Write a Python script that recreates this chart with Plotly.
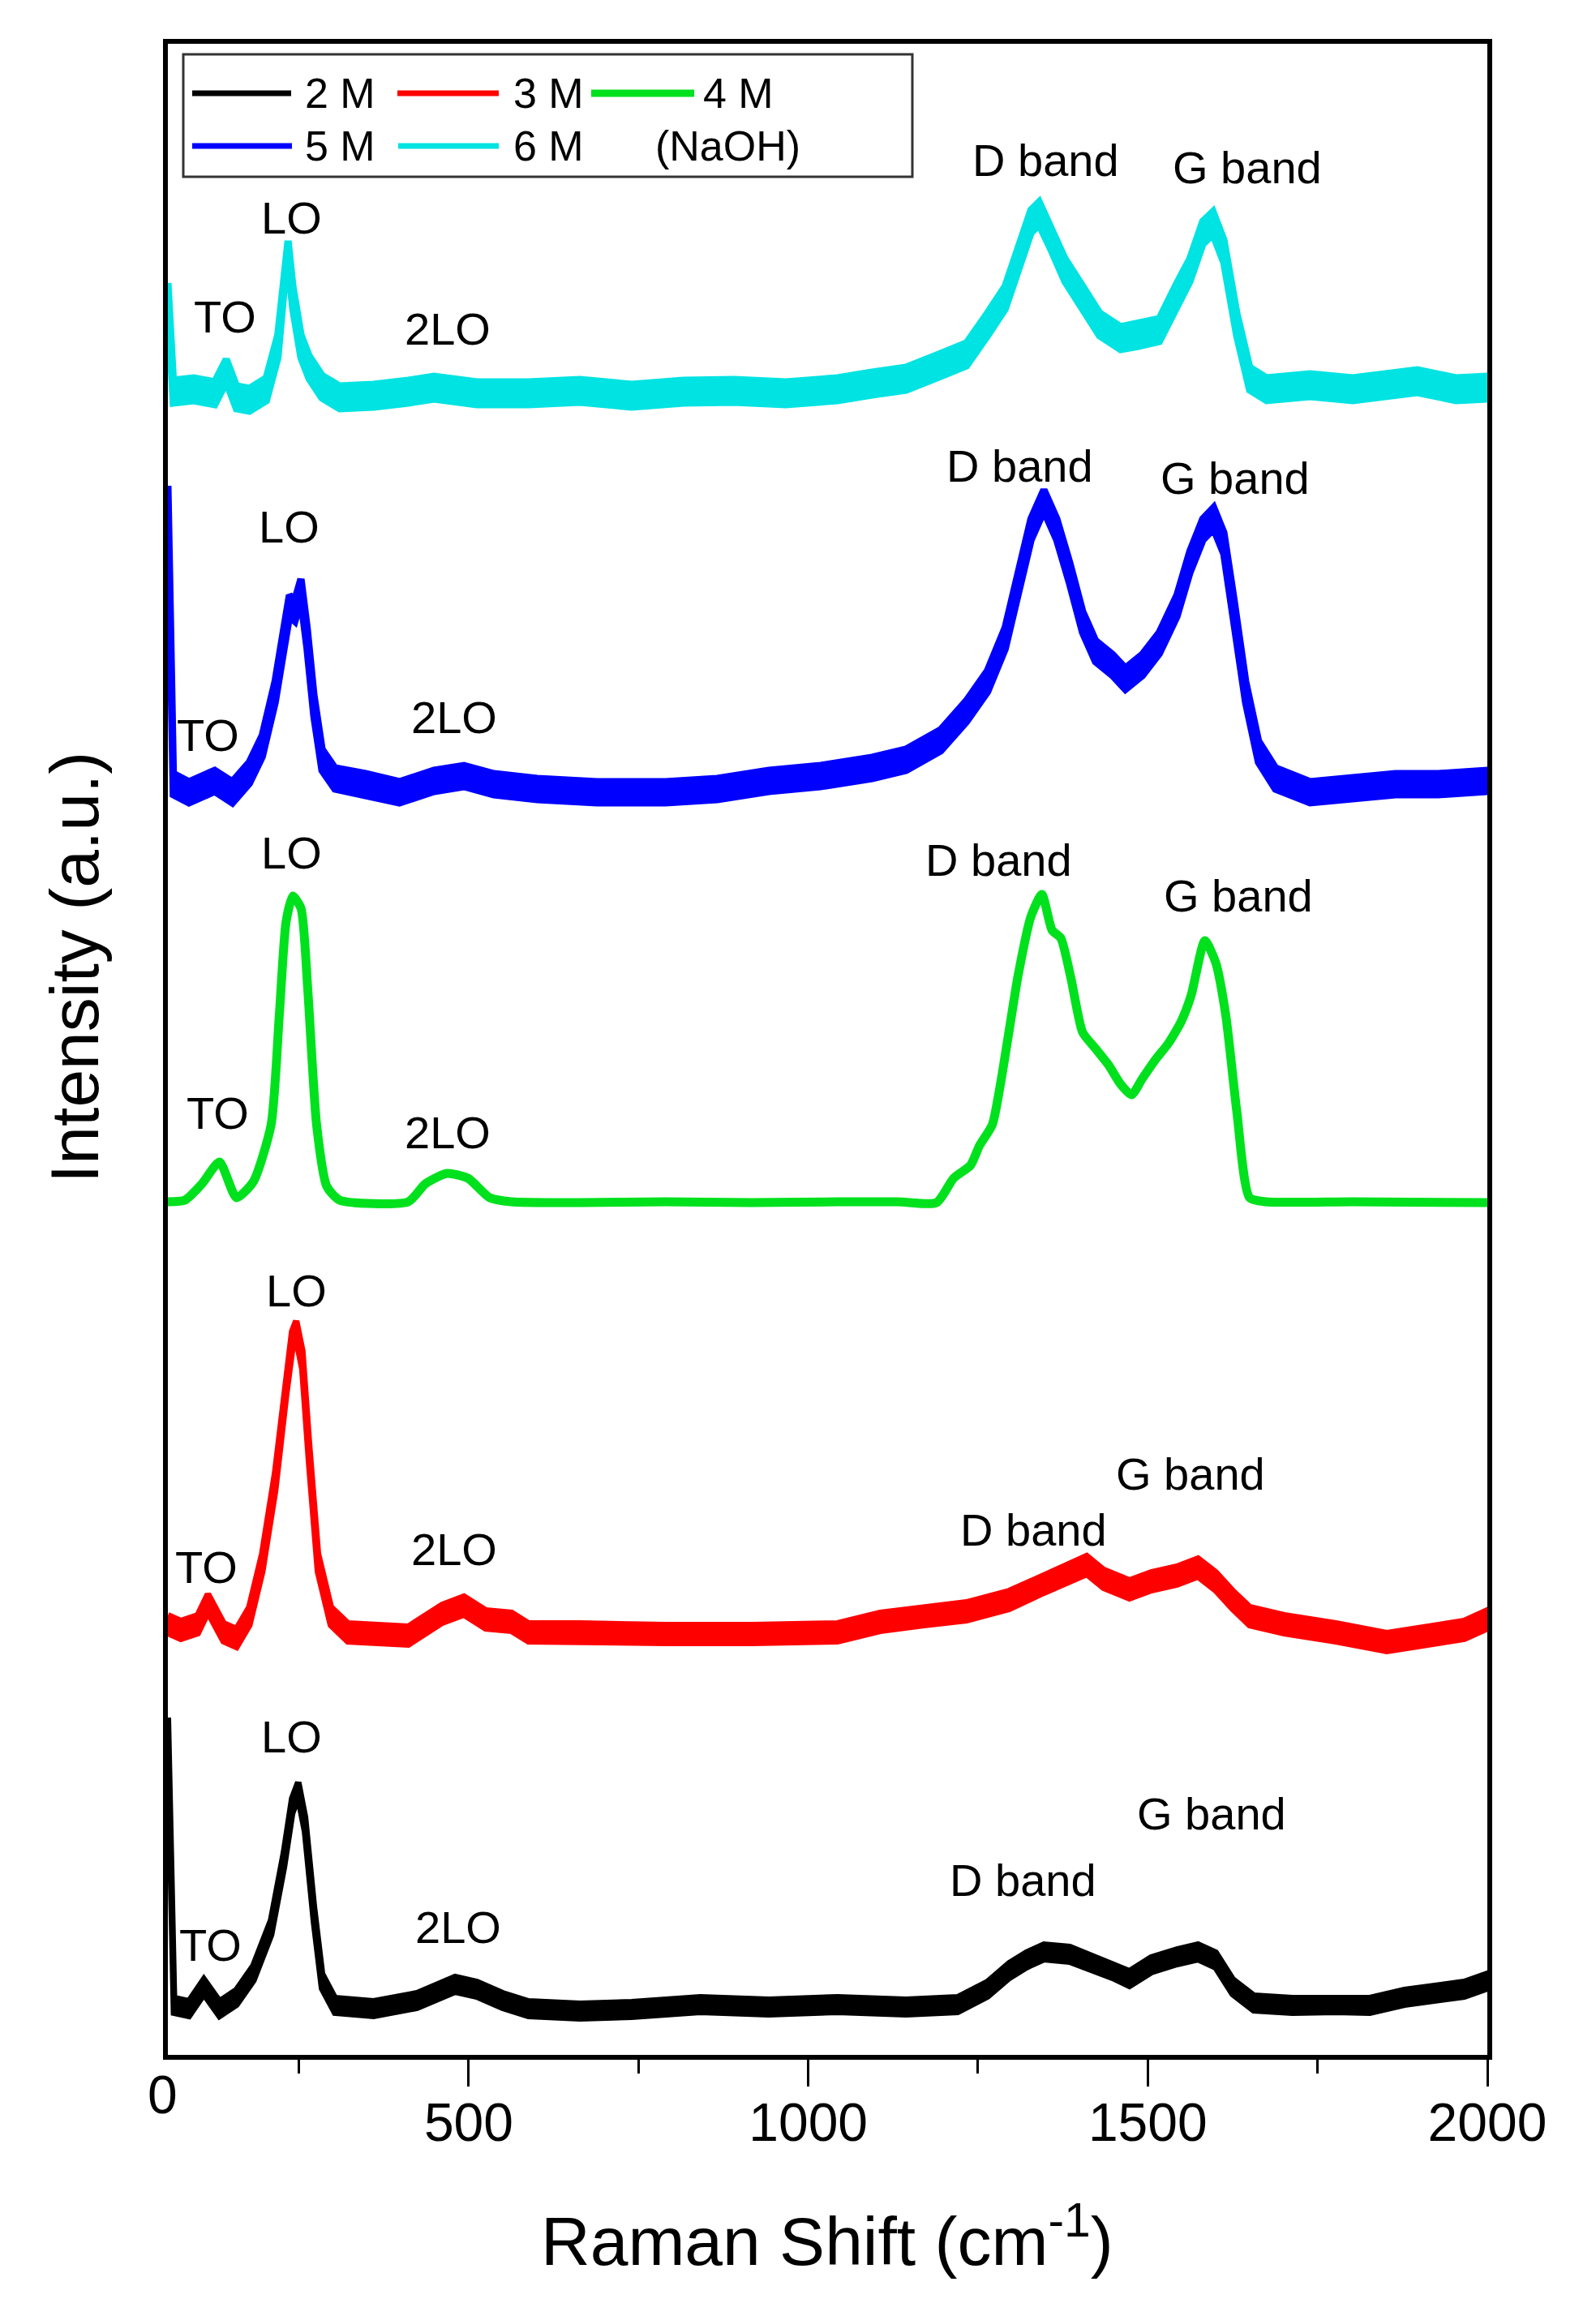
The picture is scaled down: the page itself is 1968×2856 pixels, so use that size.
import plotly.graph_objects as go

# ---------------- data ----------------
# x: Raman shift (cm-1); y: intensity (a.u., stacked offsets as plotted)
x_2M = [57, 66, 88, 110, 133, 158, 183, 209, 228, 240, 249, 259, 272, 284, 303, 360, 424, 480, 512, 550,
        588, 664, 740, 841, 942, 1043, 1144, 1220, 1264, 1296, 1321, 1347, 1385, 1416, 1448, 1473, 1505, 1543,
        1574, 1600, 1625, 1656, 1713, 1777, 1827, 1878, 1928, 1966, 2000]
y_2M = [410, 64, 60, 87, 60, 74, 104, 160, 244, 310, 330, 287, 177, 94, 64, 60, 70, 90, 84, 70,
        60, 57, 59, 65, 62, 65, 62, 65, 84, 107, 120, 130, 127, 117, 107, 97, 114, 124,
        130, 120, 87, 67, 64, 65, 64, 74, 80, 84, 94]

x_3M = [57, 76, 101, 116, 139, 158, 177, 196, 215, 231, 240, 246, 255, 265, 278, 297, 322, 411, 461, 493,
        525, 563, 588, 664, 790, 917, 1043, 1106, 1170, 1233, 1296, 1347, 1385, 1410, 1435, 1473, 1505, 1543,
        1574, 1600, 1625, 1650, 1701, 1777, 1852, 1916, 1966, 2000]
y_3M = [534, 527, 534, 560, 524, 517, 544, 610, 710, 827, 884, 897, 860, 744, 610, 544, 524, 520, 547, 557,
        540, 537, 524, 524, 522, 522, 524, 537, 544, 550, 564, 584, 597, 607, 590, 577, 587, 594,
        604, 587, 564, 544, 534, 524, 512, 520, 527, 540]

x_4M = [57, 82, 107, 133, 158, 183, 209, 221, 231, 241, 253, 263, 276, 291, 310, 411, 436, 468, 499, 531,
        563, 664, 790, 917, 1043, 1132, 1189, 1214, 1239, 1252, 1271, 1283, 1296, 1309, 1328, 1344, 1359, 1372,
        1387, 1404, 1423, 1442, 1460, 1476, 1492, 1511, 1530, 1549, 1564, 1584, 1600, 1615, 1631, 1650, 1675,
        1802, 2000]
y_4M = [1055, 1057, 1077, 1104, 1060, 1080, 1150, 1284, 1400, 1432, 1417, 1317, 1150, 1074, 1057, 1055, 1077, 1090, 1084, 1060,
        1055, 1054, 1055, 1054, 1055, 1055, 1054, 1084, 1100, 1124, 1150, 1200, 1267, 1334, 1407, 1434, 1390, 1380,
        1330, 1264, 1244, 1224, 1200, 1187, 1207, 1230, 1250, 1277, 1310, 1377, 1350, 1284, 1167, 1060, 1055,
        1055, 1054]

x_5M = [57, 65, 88, 126, 152, 177, 196, 215, 228, 236, 244, 253, 262, 272, 284, 303, 348, 398, 449, 493,
        537, 601, 689, 790, 866, 942, 1018, 1094, 1144, 1195, 1233, 1264, 1290, 1309, 1328, 1347, 1366, 1385,
        1404, 1423, 1448, 1467, 1492, 1517, 1543, 1562, 1581, 1597, 1612, 1627, 1644, 1663, 1688, 1739, 1802,
        1865, 1928, 2000]
y_5M = [1925, 1570, 1560, 1574, 1560, 1584, 1617, 1684, 1750, 1790, 1784, 1810, 1750, 1667, 1600, 1577, 1570, 1560, 1574, 1580,
        1570, 1564, 1560, 1560, 1564, 1574, 1580, 1590, 1600, 1624, 1660, 1697, 1750, 1817, 1884, 1920, 1884, 1830,
        1770, 1734, 1717, 1700, 1717, 1744, 1790, 1844, 1884, 1898, 1867, 1784, 1684, 1610, 1577, 1560, 1564,
        1570, 1570, 1574]

x_6M = [57, 65, 95, 126, 143, 158, 177, 202, 219, 228, 234, 241, 253, 265, 284, 310, 360, 411, 449, 512,
        588, 664, 740, 816, 891, 967, 1043, 1094, 1144, 1195, 1233, 1264, 1290, 1309, 1328, 1340, 1357, 1378,
        1404, 1429, 1460, 1486, 1517, 1543, 1562, 1581, 1596, 1612, 1631, 1650, 1675, 1739, 1802, 1897, 1954,
        2000]
y_6M = [2174, 2054, 2057, 2052, 2080, 2047, 2044, 2057, 2110, 2194, 2226, 2170, 2110, 2084, 2060, 2047, 2049, 2054, 2059, 2052,
        2052, 2055, 2049, 2054, 2055, 2052, 2057, 2064, 2070, 2087, 2100, 2137, 2170, 2217, 2264, 2274, 2244, 2204,
        2170, 2137, 2120, 2124, 2130, 2174, 2204, 2250, 2262, 2227, 2137, 2070, 2057, 2062, 2057, 2067, 2057,
        2059]

series_names = ["2 M", "3 M", "4 M", "5 M", "6 M"]
series_x = [x_2M, x_3M, x_4M, x_5M, x_6M]
series_y = [y_2M, y_3M, y_4M, y_5M, y_6M]

x_tick_vals = [500, 1000, 1500, 2000]
x_tick_text = ["500", "1000", "1500", "2000"]
x_minor_vals = [250, 750, 1250, 1750]

# peak labels (x in cm-1, y in plotted a.u.)
label_text = ["TO", "LO", "2LO", "D band", "G band"] * 5
label_x = [120, 239, 485, 1316, 1594,
           114, 246, 479, 1332, 1563,
           131, 239, 469, 1280, 1633,
           116, 236, 479, 1311, 1628,
           141, 239, 469, 1350, 1646]
label_y = [139, 396, 161, 219, 301,
           605, 946, 627, 651, 720,
           1165, 1486, 1141, 1477, 1433,
           1631, 1888, 1653, 1963, 1948,
           2147, 2269, 2132, 2340, 2331]

# ---------------- styles ----------------
colors = ["#000000", "#FF0000", "#00E11E", "#0000FF", "#00E3E3"]
band_half = [9, 11, 0, 13, 14]        # half thickness of the noisy band
line_w = [8, 8, 11, 9, 9]
FONT = "Arial, Liberation Sans, sans-serif"

# page geometry (browser body has an 8px margin, compensated below)
PAGE_W, PAGE_H = 1968, 2856
BODY = 8
L, R, T, B = 207, 1834, 54, 2534      # plot area in page pixels
FRAME_W = 6


def px(x):
    return (x - L) / (R - L)


def py(y):
    return (B - y) / (B - T)


fig = go.Figure()
for name, xs, ys, c, h, w in zip(series_names, series_x, series_y, colors, band_half, line_w):
    if h > 0:
        poly_x = list(xs) + list(xs)[::-1]
        poly_y = [v + h for v in ys] + [v - h for v in ys][::-1]
        fig.add_trace(go.Scatter(x=poly_x, y=poly_y, mode="lines", fill="toself",
                                 fillcolor=c, line=dict(color=c, width=w),
                                 name=name, showlegend=False, hoverinfo="skip"))
    else:
        fig.add_trace(go.Scatter(x=xs, y=ys, mode="lines",
                                 line=dict(color=c, width=w, shape="spline", smoothing=0.6),
                                 name=name, showlegend=False, hoverinfo="skip"))

annotations = []
for t, xv, yv in zip(label_text, label_x, label_y):
    annotations.append(dict(x=xv, y=yv, xref="x", yref="y", text=t, showarrow=False,
                            font=dict(size=56, color="black", family=FONT),
                            xanchor="center", yanchor="middle"))

# axis titles and the lone "0" label
annotations.append(dict(x=px(1020), y=py(2758), xref="paper", yref="paper",
                        text="Raman Shift (cm<sup>-1</sup>)", showarrow=False,
                        font=dict(size=84, color="black", family=FONT),
                        xanchor="center", yanchor="middle"))
annotations.append(dict(x=px(92), y=py(1193), xref="paper", yref="paper",
                        text="Intensity (a.u.)", showarrow=False, textangle=-90,
                        font=dict(size=84, color="black", family=FONT),
                        xanchor="center", yanchor="middle"))
annotations.append(dict(x=px(200), y=py(2583), xref="paper", yref="paper",
                        text="0", showarrow=False,
                        font=dict(size=66, color="black", family=FONT),
                        xanchor="center", yanchor="middle"))

# legend (manual, 2 rows)
shapes = [dict(type="rect", xref="paper", yref="paper",
               x0=px(226), x1=px(1125), y0=py(218), y1=py(67),
               line=dict(color="#333333", width=3), fillcolor="white", layer="above")]
leg_rows = [115, 115, 115, 180, 180]
leg_x0 = [237, 490, 729, 237, 491]
leg_x1 = [359, 615, 856, 360, 615]
leg_tx = [374, 631, 865, 374, 631]
leg_w = [7, 7, 9, 7, 7]
for name, c, yy, a, b, tx, lw in zip(series_names, colors, leg_rows, leg_x0, leg_x1, leg_tx, leg_w):
    shapes.append(dict(type="line", xref="paper", yref="paper", x0=px(a), x1=px(b),
                       y0=py(yy), y1=py(yy), line=dict(color=c, width=lw), layer="above"))
    annotations.append(dict(x=px(tx), y=py(yy), xref="paper", yref="paper", text=name,
                            showarrow=False, xanchor="left", yanchor="middle",
                            font=dict(size=52, color="black", family=FONT)))
annotations.append(dict(x=px(806), y=py(180), xref="paper", yref="paper", text="(NaOH)",
                        showarrow=False, xanchor="left", yanchor="middle",
                        font=dict(size=52, color="black", family=FONT)))

fig.update_layout(
    width=PAGE_W - BODY, height=PAGE_H - BODY,
    margin=dict(l=L - BODY, r=PAGE_W - R, t=T - BODY, b=PAGE_H - B, pad=0),
    plot_bgcolor="white", paper_bgcolor="white",
    showlegend=False,
    font=dict(family=FONT, color="black"),
    xaxis=dict(range=[57, 2000], showline=True, linecolor="black", linewidth=FRAME_W, mirror=True,
               showgrid=False, zeroline=False, ticks="outside", ticklen=33, tickwidth=3,
               tickcolor="black", tickvals=x_tick_vals, ticktext=x_tick_text,
               ticklabelstandoff=-12,
               tickfont=dict(size=66, color="black", family=FONT),
               minor=dict(tickvals=x_minor_vals, ticks="outside", ticklen=17, tickwidth=3,
                          tickcolor="black")),
    yaxis=dict(range=[3, 2483], showline=True, linecolor="black", linewidth=FRAME_W, mirror=True,
               showgrid=False, zeroline=False, showticklabels=False, ticks=""),
    annotations=annotations,
    shapes=shapes,
)

fig.write_html("out.html")
